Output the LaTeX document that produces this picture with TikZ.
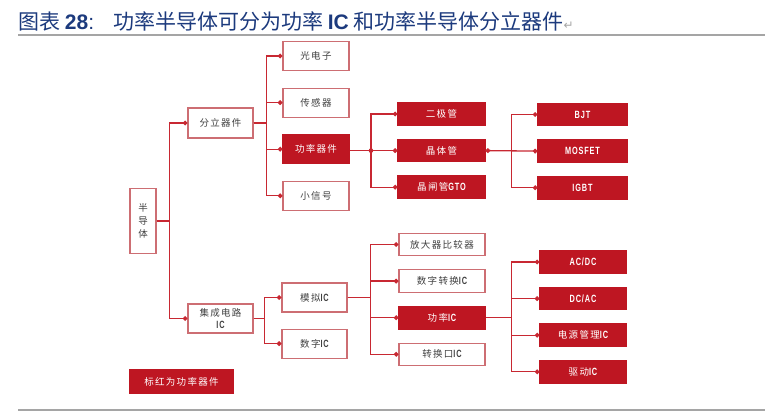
\documentclass[tikz,border=0pt]{standalone}
\usepackage{fontspec}
\setmainfont{Noto Sans CJK SC}
\newfontfamily\arial{Liberation Sans}
\newfontfamily\arialn[FakeStretch=0.7,LetterSpace=8]{Liberation Sans}
\newfontfamily\dejavu{DejaVu Sans}
\newfontfamily\boxfont[LetterSpace=14]{Noto Sans CJK SC}
\usepackage{tikz}
\usetikzlibrary{arrows.meta,positioning}
\definecolor{titleblue}{RGB}{28,58,125}
\definecolor{boxred}{RGB}{190,22,34}
\definecolor{linkred}{RGB}{200,40,50}
\definecolor{boxline}{RGB}{205,110,115}
\definecolor{txtgray}{RGB}{65,65,65}
\definecolor{rulegray}{RGB}{165,165,165}
\def \bx {\boxfont\fontsize{9.5}{13}\selectfont}
\def \en #1{{\arialn\bfseries\fontsize{10.5}{11}\selectfont #1}}
\def \ttl {\fontsize{21}{24}\selectfont}

\begin{document}
\begin{tikzpicture}[x=1pt,y=-1pt,node distance=13pt]
\tikzstyle{wbox}=[draw=boxline,line width=1.1pt,fill=white,text=txtgray,font=\bx,minimum width=66pt,minimum height=29pt,inner sep=1pt,align=center];
\tikzstyle{rbox}=[wbox,draw=boxred,fill=boxred,text=white];
\tikzstyle{sbox}=[minimum width=87pt,minimum height=22.5pt];
\tikzstyle{link}=[draw=linkred,line width=1.3pt,-{Circle[length=4.6pt]}];
\tikzstyle{rule}=[draw=rulegray,line width=1.3pt];
\useasboundingbox (0,0) rectangle (772,415);
\node (title) [anchor=base west,inner sep=0pt,text=titleblue,font=\ttl] at (18,30) {图表 {\arial\bfseries 28}{\arial :}\hspace{19pt}功率半导体可分为功率 {\arial\bfseries IC} 和功率半导体分立器件{\dejavu\color{rulegray}\fontsize{12}{12}\selectfont ↵}};
\draw [rule] (18,35) -- (765,35);
\draw [rule] (18,410) -- (765,410);
% root and first level
\node (bdt) [wbox,minimum width=26pt,minimum height=65pt] at (143,221) {半\\导\\体};
\node (fl) [wbox,minimum width=65pt,minimum height=30pt] at (220.5,123) {分立器件};
\node (jc) [wbox,minimum width=65pt] at (220.5,318.5) {集成电路\\[-1pt]\en{IC}};
% discrete devices
\node (gdz) [wbox] at (316,56) {光电子};
\node (cgq) [wbox,below=16.5pt of gdz] {传感器};
\node (gl) [rbox,below=16.5pt of cgq] {功率器件};
\node (xxh) [wbox,below=16.5pt of gl] {小信号};
\node (ejg) [rbox,sbox] at (441.5,114) {二极管};
\node (jtg) [rbox,sbox,below=of ejg] {晶体管};
\node (jzg) [rbox,sbox,below=of jtg] {晶闸管\en{GTO}};
\node (bjt) [rbox,sbox,minimum width=89pt] at (582.5,114.5) {\en{BJT}};
\node (mos) [rbox,sbox,minimum width=89pt,below=of bjt] {\en{MOSFET}};
\node (igbt) [rbox,sbox,minimum width=89pt,below=of mos] {\en{IGBT}};
% integrated circuits
\node (mn) [wbox,minimum width=65pt] at (314.5,297.5) {模拟\en{IC}};
\node (sz) [wbox,minimum width=65pt,below=16pt of mn] {数字\en{IC}};
\node (fd) [wbox,sbox,minimum width=86pt] at (442,244.5) {放大器比较器};
\node (szzh) [wbox,sbox,minimum width=86pt,below=of fd] {数字转换\en{IC}};
\node (glic) [rbox,sbox,minimum width=86pt,below=of szzh] {功率\en{IC}};
\node (zhk) [wbox,sbox,minimum width=86pt,below=of glic] {转换口\en{IC}};
\node (acdc) [rbox,sbox,minimum width=86pt] at (583,262) {\en{AC/DC}};
\node (dcac) [rbox,sbox,minimum width=86pt,below=of acdc] {\en{DC/AC}};
\node (dygl) [rbox,sbox,minimum width=86pt,below=of dcac] {电源管理\en{IC}};
\node (qd) [rbox,sbox,minimum width=86pt,below=of dygl] {驱动\en{IC}};
\node (bh) [rbox,minimum width=103pt,minimum height=23pt] at (181.5,381.5) {标红为功率器件};
% connectors
\draw [link] (bdt.east) -| ([xshift=-18pt]fl.west) -- (fl.west);
\draw [link] (bdt.east) -| ([xshift=-18pt]jc.west) -- (jc.west);
\draw [link] (fl.east) -| ([xshift=-16pt]gdz.west) -- (gdz.west);
\draw [link] (fl.east) -| ([xshift=-16pt]cgq.west) -- (cgq.west);
\draw [link] (fl.east) -| ([xshift=-16pt]gl.west) -- (gl.west);
\draw [link] (fl.east) -| ([xshift=-16pt]xxh.west) -- (xxh.west);
\draw [link] (gl.east |- jtg.west) -| ([xshift=-26.5pt]ejg.west) -- (ejg.west);
\draw [link] (gl.east |- jtg.west) -- (jtg.west);
\draw [link] (gl.east |- jtg.west) -| ([xshift=-26.5pt]jzg.west) -- (jzg.west);
\fill [linkred] ([xshift=-26.5pt]jtg.west) circle (2.3pt);
\draw [link,{Circle[length=4.6pt]}-{Circle[length=4.6pt]}] (jtg.east) -| ([xshift=-26pt]bjt.west) -- (bjt.west);
\draw [link] (jtg.east) -- (mos.west);
\draw [link] (jtg.east) -| ([xshift=-26pt]igbt.west) -- (igbt.west);
\draw [link] (jc.east) -| ([xshift=-17pt]mn.west) -- (mn.west);
\draw [link] (jc.east) -| ([xshift=-17pt]sz.west) -- (sz.west);
\draw [link] (mn.east) -| ([xshift=-28pt]fd.west) -- (fd.west);
\draw [link] (mn.east) -| ([xshift=-28pt]szzh.west) -- (szzh.west);
\draw [link] (mn.east) -| ([xshift=-28pt]glic.west) -- (glic.west);
\draw [link] (mn.east) -| ([xshift=-28pt]zhk.west) -- (zhk.west);
\draw [link] (glic.east) -| ([xshift=-28pt]acdc.west) -- (acdc.west);
\draw [link] (glic.east) -| ([xshift=-28pt]dcac.west) -- (dcac.west);
\draw [link] (glic.east) -| ([xshift=-28pt]dygl.west) -- (dygl.west);
\draw [link] (glic.east) -| ([xshift=-28pt]qd.west) -- (qd.west);
\end{tikzpicture}
\end{document}
